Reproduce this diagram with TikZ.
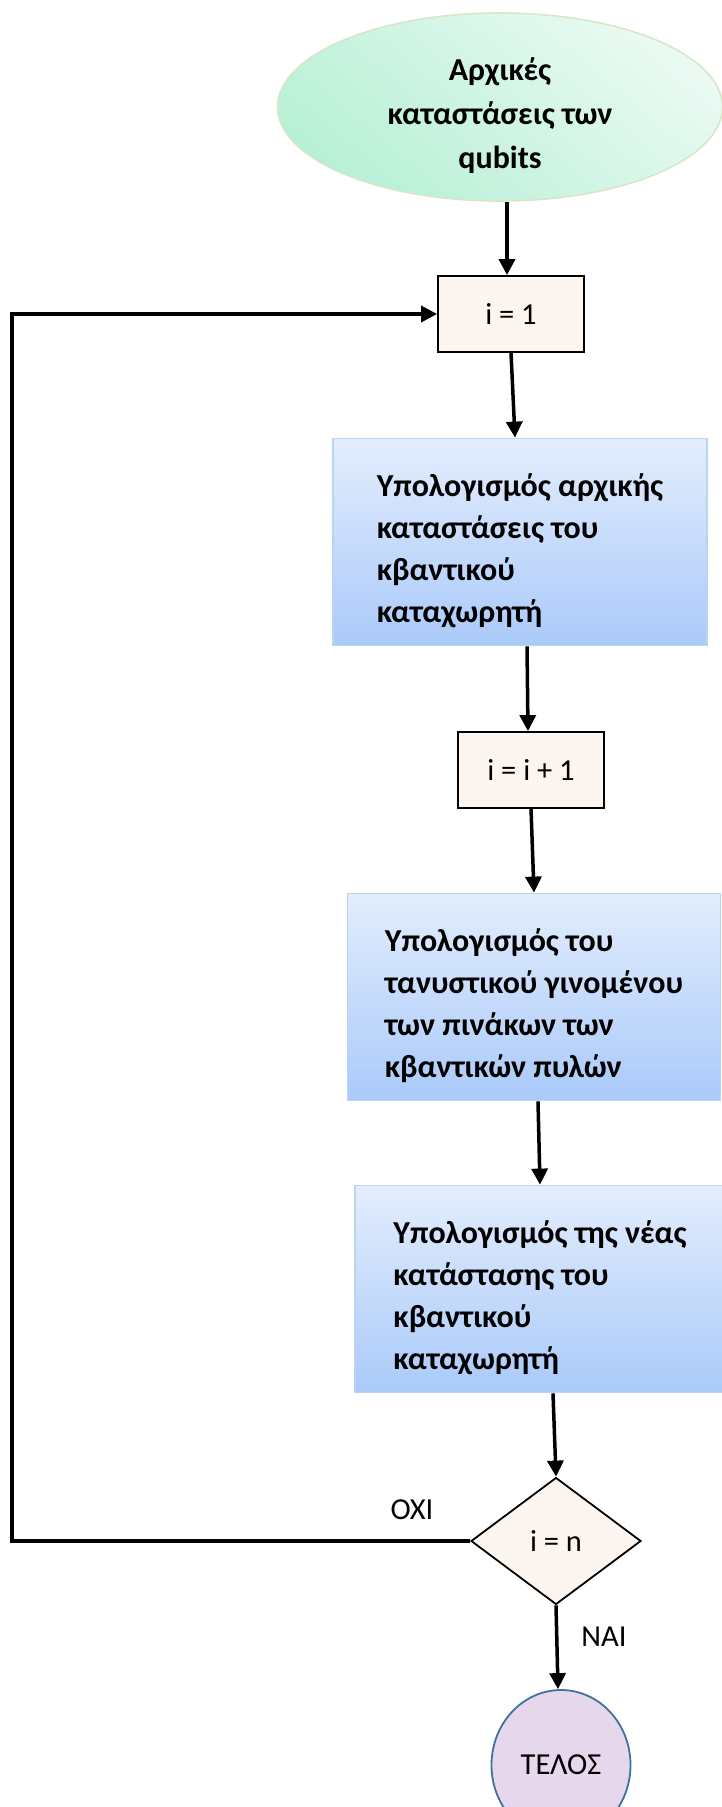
\documentclass[tikz,border=0pt]{standalone}
\usepackage{fontspec}
\setmainfont{Carlito}
\usepackage{xcolor}
\usetikzlibrary{shapes.geometric, arrows.meta}

\definecolor{peach}{HTML}{FDF5F0}
\definecolor{boxtop}{HTML}{E3EDFD}
\definecolor{boxbot}{HTML}{AACAFA}
\definecolor{boxline}{HTML}{BCD4EE}
\definecolor{mintdark}{HTML}{B8F0D6}
\definecolor{mintlight}{HTML}{EAFAF3}
\definecolor{mintline}{HTML}{D8E6C8}
\definecolor{lilac}{HTML}{E6D7EC}
\definecolor{steel}{HTML}{41719C}

% extra room above the first line of a text block
\newcommand{\firstgap}{\rule{0pt}{40pt}}

\begin{document}
\begin{tikzpicture}[x=1pt, y=-1pt,
    every node/.style={font=\fontsize{30.5}{42}\selectfont, inner sep=0pt},
    counter/.style={draw, line width=1.8pt, fill=peach,
      minimum width=146pt, minimum height=76pt},
    calcbox/.style={draw=boxline, line width=1.8pt, top color=boxtop,
      bottom color=boxbot, minimum height=207pt, align=left,
      font=\fontsize{32}{42}\selectfont\bfseries},
    arr/.style={line width=3.5pt, line join=miter,
      -{Triangle[length=16pt, width=16pt]}}
  ]
        % Page
        \path[use as bounding box, fill=white] (0,0) rectangle (722,1807);
        \clip (0,0) rectangle (722,1807);
        % Start
        \node[ellipse, draw=mintline, line width=1.5pt, top color=mintlight,
          bottom color=mintdark, shading angle=-40, align=center,
          minimum width=445pt, minimum height=188pt,
          font=\fontsize{32}{44}\selectfont\bfseries]
          (init) at (500,107) {\firstgap Αρχικές\\καταστάσεις των\\qubits};
        % Counter and steps
        \node[counter] (iset) at (511,314) {i = 1};
        \node[calcbox, minimum width=374pt] (regstate) at (520,542)
          {\firstgap Υπολογισμός αρχικής\\καταστάσεις του\\κβαντικού\\καταχωρητή};
        \node[counter] (iinc) at (531,770) {i = i + 1};
        \node[calcbox, minimum width=373pt] (tensor) at (534,997)
          {\firstgap Υπολογισμός του\\τανυστικού γινομένου\\των πινάκων των\\κβαντικών πυλών};
        \node[calcbox, minimum width=370pt] (newstate) at (540,1289)
          {\firstgap Υπολογισμός της νέας\\κατάστασης του\\κβαντικού\\καταχωρητή};
        % Test
        \node[diamond, draw, line width=1.8pt, fill=peach, aspect=1.34,
          minimum width=170pt, minimum height=127pt]
          (check) at (556,1541) {i = n};
        % End
        \node[ellipse, draw=steel, line width=1.8pt, fill=lilac,
          minimum width=139pt, minimum height=150pt]
          (stop) at (561,1765) {ΤΕΛΟΣ};
        % Labels
        \node (nolbl) at (412,1510) {ΟΧΙ};
        \node (yeslbl) at (604,1637) {ΝΑΙ};
        % Arrows
        \draw[arr] ([xshift=7pt]init.south) -- ([xshift=-4pt]iset.north);
        \draw[arr] (iset.south) -- ([xshift=-5pt]regstate.north);
        \draw[arr] ([xshift=7pt]regstate.south) -- ([xshift=-3pt]iinc.north);
        \draw[arr] (iinc.south) -- (tensor.north);
        \draw[arr] ([xshift=4pt]tensor.south) -- (newstate.north);
        \draw[arr] ([xshift=13pt]newstate.south) -- (check.north);
        \draw[arr] (check.south) -- ([xshift=-3pt]stop.north);
        % Loop back
        \coordinate (back) at (12,1541);
        \draw[arr] (check.west) -- (back) |- (iset.west);
\end{tikzpicture}
\end{document}
